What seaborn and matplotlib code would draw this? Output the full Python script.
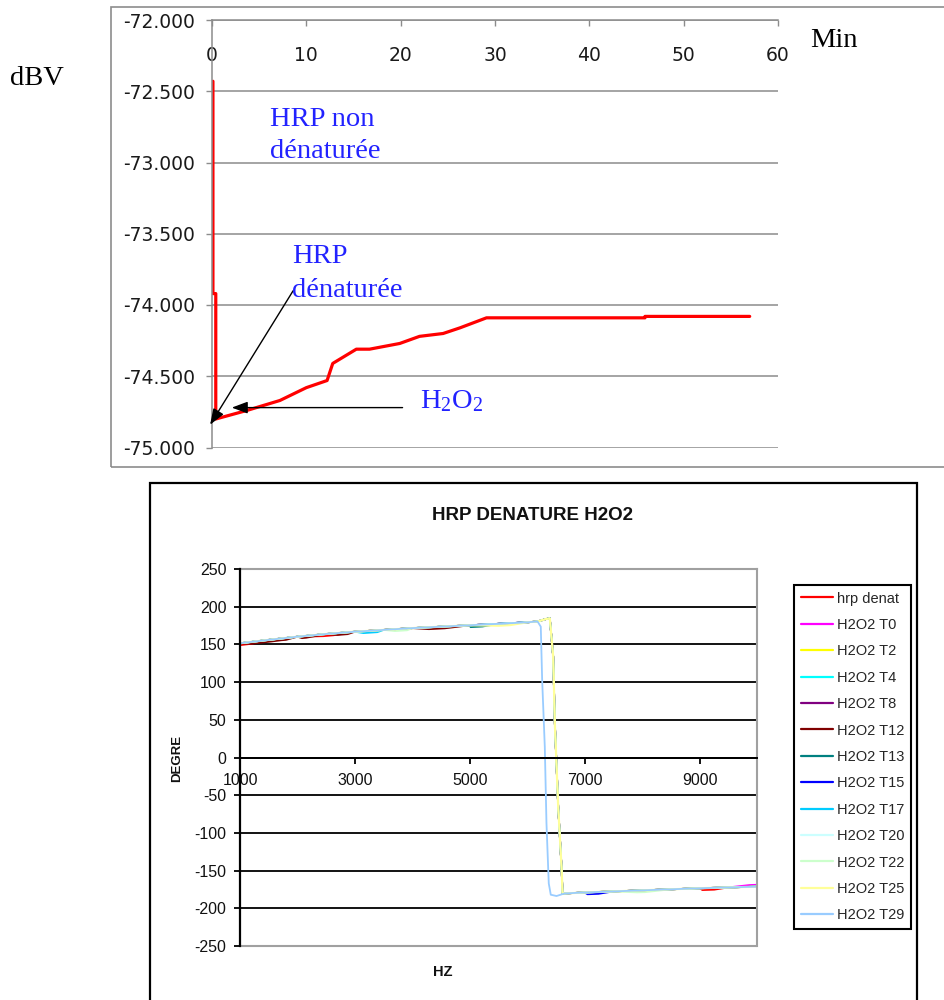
import matplotlib
matplotlib.use("Agg")
import matplotlib.pyplot as plt
import seaborn as sns
import pandas as pd
from matplotlib.lines import Line2D
from matplotlib.patches import Rectangle

# ---------------- top chart data (dBV vs minutes) ----------------
time_min = [0.1, 0.1, 0.4, 0.4, 3.7, 7.2, 10.0, 12.2, 12.8, 15.3, 16.7,
            19.9, 22.0, 24.5, 26.3, 29.1, 45.9, 45.9, 57.0]
level_dbv = [-72.43, -73.92, -73.92, -74.80, -74.74, -74.67, -74.58, -74.53,
             -74.41, -74.31, -74.31, -74.27, -74.22, -74.20, -74.16, -74.09,
             -74.09, -74.08, -74.08]
top_xticks = [0, 10, 20, 30, 40, 50, 60]
top_yticks = [-72.0, -72.5, -73.0, -73.5, -74.0, -74.5, -75.0]

# ---------------- bottom chart data (phase vs frequency) ----------------
series_names = ["hrp denat", "H2O2 T0", "H2O2 T2", "H2O2 T4", "H2O2 T8",
                "H2O2 T12", "H2O2 T13", "H2O2 T15", "H2O2 T17", "H2O2 T20",
                "H2O2 T22", "H2O2 T25", "H2O2 T29"]
series_colors = ["#FF0000", "#FF00FF", "#FFFF00", "#00FFFF", "#800080",
                 "#800000", "#008080", "#0000FF", "#00CCFF", "#CCFFFF",
                 "#CCFFCC", "#FFFF99", "#99CCFF"]

freq_upper = [1000, 1500, 2000, 2500, 3000, 3500, 4000, 4500, 5000, 5500, 6000, 6180]
phase_upper = [151.5, 156.0, 160.2, 163.8, 166.8, 169.2, 171.6, 173.5, 175.4, 177.3, 179.3, 180.4]
freq_lower = [6650, 7000, 7500, 8000, 8500, 9000, 9500, 10000]
phase_lower = [-180.3, -179.0, -177.6, -176.2, -174.8, -173.4, -172.3, -171.3]
freq_drop_early = [6236, 6260, 6306, 6335, 6375, 6410, 6510]
phase_drop_early = [173.5, 103.0, 14.0, -87.0, -167.0, -182.0, -183.7]
freq_drop_late = [6320, 6393, 6452, 6481, 6539, 6597, 6615]
phase_drop_late = [183.5, 184.6, 133.7, 45.0, -65.0, -145.0, -180.0]

# short stretches where a series shows beside the others (start/end pairs)
frag_hz_hrp = [1000, 1190, 2450, 2630, 9050, 9255]
frag_deg_hrp = [149.0, 150.7, 160.9, 162.1, -175.8, -175.3]
frag_hz_t0 = [9876, 10000]
frag_deg_t0 = [-169.1, -168.8]
frag_hz_t12 = [1190, 1320, 1380, 1550, 1720, 1800, 2080, 2150, 2700, 2875, 4290, 4565]
frag_deg_t12 = [150.7, 151.9, 152.4, 153.9, 155.5, 156.0, 158.3, 158.8, 162.5, 163.6, 170.2, 171.3]
frag_hz_t13 = [5014, 5220]
frag_deg_t13 = [172.9, 173.7]
frag_hz_t15 = [7050, 7240]
frag_deg_t15 = [-181.4, -180.8]
frag_hz_t17 = [3150, 3390]
frag_deg_t17 = [165.0, 166.2]
frag_hz_t22 = [3700, 3910, 7910, 8050]
frag_deg_t22 = [167.7, 168.7, -178.9, -178.6]
frag_hz_t25 = [5500, 5700]
frag_deg_t25 = [174.8, 175.6]

fragments = {
    "hrp denat": (frag_hz_hrp, frag_deg_hrp),
    "H2O2 T0": (frag_hz_t0, frag_deg_t0),
    "H2O2 T12": (frag_hz_t12, frag_deg_t12),
    "H2O2 T13": (frag_hz_t13, frag_deg_t13),
    "H2O2 T15": (frag_hz_t15, frag_deg_t15),
    "H2O2 T17": (frag_hz_t17, frag_deg_t17),
    "H2O2 T22": (frag_hz_t22, frag_deg_t22),
    "H2O2 T25": (frag_hz_t25, frag_deg_t25),
}
bottom_xticks = [1000, 3000, 5000, 7000, 9000]
bottom_yticks = [250, 200, 150, 100, 50, 0, -50, -100, -150, -200, -250]


def build_series(name):
    fh, fd = fragments.get(name, ([], []))
    spans = list(zip(fh[0::2], fh[1::2]))
    rows = []
    for f, p in zip(freq_upper + freq_lower, phase_upper + phase_lower):
        if not any(a <= f <= b for a, b in spans):
            rows.append((f, p))
    rows += list(zip(fh, fd))
    if name == "H2O2 T29":
        rows += list(zip(freq_drop_early, phase_drop_early))
    else:
        rows += list(zip(freq_drop_late, phase_drop_late))
    rows.sort(key=lambda r: r[0])
    return pd.DataFrame({"hz": [r[0] for r in rows], "deg": [r[1] for r in rows], "series": name})


df = pd.concat([build_series(n) for n in series_names], ignore_index=True)
palette = dict(zip(series_names, series_colors))

# ---------------- figure ----------------
sns.set_theme(style="white")
plt.rcParams["font.family"] = ["DejaVu Sans"]
plt.rcParams["mathtext.fontset"] = "custom"
plt.rcParams["mathtext.rm"] = "Liberation Serif"
plt.rcParams["mathtext.it"] = "Liberation Serif:italic"

W, H = 944, 1000
fig = plt.figure(figsize=(W / 100, H / 100), dpi=100)
fig.patch.set_facecolor("white")


def fx(x):
    return x / W


def fy(y):
    return 1 - y / H


GRAY = "#8c8c8c"
SERIF = ["Liberation Serif", "DejaVu Serif"]
SANS = ["Liberation Sans", "DejaVu Sans"]

# chart frames
fig.add_artist(Rectangle((fx(111), fy(467)), 1.0, (467 - 7) / H, transform=fig.transFigure,
                         fill=False, edgecolor=GRAY, lw=1.2))
fig.add_artist(Rectangle((fx(150), -0.1), (917 - 150) / W, 0.1 + fy(483), transform=fig.transFigure,
                         fill=False, edgecolor="black", lw=1.6))

# ---------------- top axes ----------------
ax1 = fig.add_axes([fx(212), fy(447.5), (778 - 212) / W, (447.5 - 20) / H])
ax1.set_facecolor("none")
sns.lineplot(x=time_min, y=level_dbv, ax=ax1, color="#FF0000", lw=2.3, sort=False, estimator=None)
ax1.set_xlim(0, 60)
ax1.set_ylim(-75, -72)
ax1.set_yticks(top_yticks)
ax1.set_yticklabels([f"{v:.3f}" for v in top_yticks])
ax1.xaxis.tick_top()
ax1.set_xticks(top_xticks)
ax1.set_xticklabels([str(v) for v in top_xticks])
ax1.tick_params(axis="x", which="both", top=True, bottom=False, labeltop=True, labelbottom=False,
                direction="in", length=4, width=1.0, color=GRAY, pad=-32.5,
                labelsize=13.5, labelcolor="#1a1a1a")
ax1.tick_params(axis="y", direction="out", left=True, length=4.3, width=1.0, color=GRAY, pad=7.9,
                labelsize=13.5, labelcolor="#1a1a1a")
for s in ["right", "bottom"]:
    ax1.spines[s].set_visible(False)
for s in ["left", "top"]:
    ax1.spines[s].set_color(GRAY)
    ax1.spines[s].set_linewidth(1.1)
ax1.yaxis.grid(True, color=GRAY, lw=1.1)
ax1.xaxis.grid(False)
ax1.set_xlabel("")
ax1.set_ylabel("")

ax1.annotate("", xy=(-0.2, -74.84), xytext=(8.6, -73.90),
             arrowprops=dict(arrowstyle="-|>,head_length=0.8,head_width=0.3", color="black",
                             lw=1.0, shrinkA=0, shrinkB=0), annotation_clip=False)
ax1.annotate("", xy=(2.1, -74.72), xytext=(20.2, -74.72),
             arrowprops=dict(arrowstyle="-|>,head_length=0.8,head_width=0.3", color="black",
                             lw=1.0, shrinkA=0, shrinkB=0), annotation_clip=False)

BLUE = "#2222ff"
fig.text(fx(270), fy(126), "HRP non", color=BLUE, fontsize=20.5, family=SERIF, va="baseline")
fig.text(fx(270), fy(158), "dénaturée", color=BLUE, fontsize=20.5, family=SERIF, va="baseline")
fig.text(fx(292), fy(263), "HRP", color=BLUE, fontsize=20.5, family=SERIF, va="baseline")
fig.text(fx(292), fy(297), "dénaturée", color=BLUE, fontsize=20.5, family=SERIF, va="baseline")
fig.text(fx(420), fy(408), r"$\mathrm{H_2O_2}$", color=BLUE, fontsize=20.5, va="baseline")
fig.text(fx(10), fy(85), "dBV", color="black", fontsize=20.5, family=SERIF, va="baseline")
fig.text(fx(810), fy(47), "Min", color="black", fontsize=20.5, family=SERIF, va="baseline")

# ---------------- bottom axes ----------------
ax2 = fig.add_axes([fx(240), fy(946), (757 - 240) / W, (946 - 569) / H])
ax2.set_facecolor("none")
sns.lineplot(data=df, x="hz", y="deg", hue="series", hue_order=series_names, palette=palette,
             sort=False, estimator=None, lw=1.3, legend=False, ax=ax2)
for ln in ax2.get_lines():
    if ln.get_color().upper() == "#FFFF99" or tuple(round(c, 3) for c in matplotlib.colors.to_rgb(ln.get_color())) == (1.0, 1.0, 0.6):
        ln.set_linewidth(1.6)
ax2.set_xlim(1000, 10000)
ax2.set_ylim(-250, 250)
ax2.set_xticks(bottom_xticks)
ax2.set_xticklabels([str(v) for v in bottom_xticks])
ax2.set_yticks(bottom_yticks)
ax2.set_yticklabels([str(v) for v in bottom_yticks])
ax2.spines["bottom"].set_position(("data", 0))
ax2.spines["bottom"].set_color("black")
ax2.spines["bottom"].set_linewidth(1.4)
ax2.spines["left"].set_color("black")
ax2.spines["left"].set_linewidth(1.6)
ax2.spines["left"].set_zorder(5)
for s in ["top", "right"]:
    ax2.spines[s].set_color("#a0a0a0")
    ax2.spines[s].set_linewidth(1.5)
ax2.axhline(-250, color="#a0a0a0", lw=1.5, clip_on=False)
ax2.set_axisbelow(True)
ax2.yaxis.grid(True, color="black", lw=1.3)
ax2.xaxis.grid(False)
gl = ax2.yaxis.get_gridlines()
gl[0].set_visible(False)
gl[-1].set_visible(False)
ax2.tick_params(axis="x", bottom=True, direction="out", length=4.3, width=1.3, color="black",
                pad=7, labelsize=11.5, labelcolor="#111111")
ax2.tick_params(axis="y", left=True, direction="out", length=4.3, width=1.3, color="black",
                pad=5.5, labelsize=11.5, labelcolor="#111111")
for lbl in ax2.get_xticklabels() + ax2.get_yticklabels():
    lbl.set_fontfamily(SANS)
ax2.set_xlabel("")
ax2.set_ylabel("")

fig.text(fx(532), fy(515), "HRP DENATURE H2O2", fontsize=13.5, weight="bold", family=SANS,
         ha="center", va="center", color="#111111")
fig.text(fx(177), fy(758), "DEGRE", fontsize=9.5, weight="bold", family=SANS, rotation=90,
         ha="center", va="center", color="#111111")
fig.text(fx(443), fy(972), "HZ", fontsize=10.5, weight="bold", family=SANS,
         ha="center", va="center", color="#111111")

handles = [Line2D([0], [0], color=c, lw=1.6) for c in series_colors]
leg = fig.legend(handles, series_names, loc="upper left", bbox_to_anchor=(fx(794), fy(585)),
                 bbox_transform=fig.transFigure, borderaxespad=0, frameon=True, fancybox=False,
                 shadow=False, framealpha=1, edgecolor="black",
                 handlelength=2.2, handletextpad=0.3, labelspacing=0.85, borderpad=0.45,
                 prop={"family": SANS, "size": 10.5})
leg.get_frame().set_linewidth(1.5)

fig.savefig("out.png", dpi=100, facecolor="white")
